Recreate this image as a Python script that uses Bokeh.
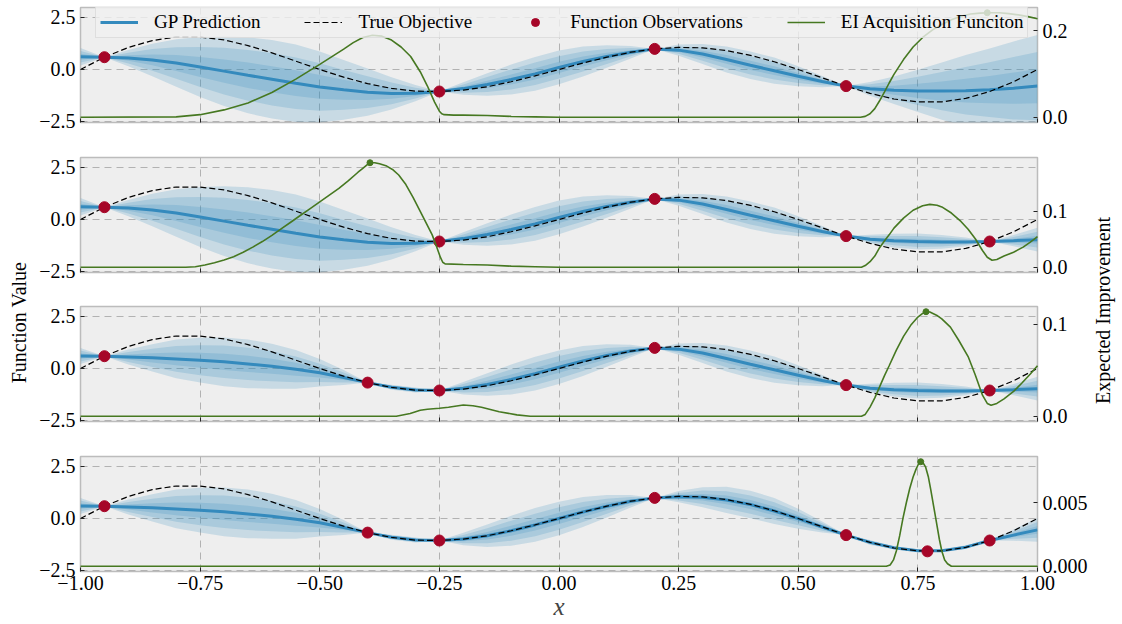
import numpy as np
from math import pi
from bokeh.plotting import figure
from bokeh.models import Range1d, LinearAxis, FixedTicker, Legend, LegendItem, CustomJSTickFormatter
from bokeh.layouts import row, column
from bokeh.embed import file_html
from bokeh.resources import INLINE
from bokeh.core.properties import value

FONT = "Liberation Serif"
BLUE = "#348ABD"
RED = "#A60628"
GREEN = "#467821"

# ---------------- data ----------------
X = [-1.0, -0.95, -0.9, -0.85, -0.8, -0.75, -0.7, -0.65, -0.6, -0.55, -0.5, -0.45, -0.4, -0.35,
     -0.3, -0.25, -0.2, -0.15, -0.1, -0.05, 0.0, 0.05, 0.1, 0.15, 0.2, 0.25, 0.3, 0.35, 0.4,
     0.45, 0.5, 0.55, 0.6, 0.65, 0.7, 0.75, 0.8, 0.85, 0.9, 0.95, 1.0]

TRUE_Y = [0.0, 0.59, 1.06, 1.39, 1.56, 1.56, 1.42, 1.15, 0.80, 0.40, 0.0, -0.37, -0.68, -0.91,
          -1.04, -1.06, -0.99, -0.83, -0.59, -0.31, 0.0, 0.31, 0.59, 0.83, 0.99, 1.06, 1.04,
          0.91, 0.68, 0.37, 0.0, -0.40, -0.80, -1.15, -1.42, -1.56, -1.56, -1.39, -1.06, -0.59, 0.0]

MEAN_1 = [0.61, 0.59, 0.55, 0.46, 0.31, 0.12, -0.08, -0.28, -0.47, -0.66, -0.84, -0.98, -1.09,
          -1.15, -1.14, -1.06, -0.92, -0.72, -0.48, -0.21, 0.10, 0.38, 0.62, 0.83, 0.99, 0.93,
          0.74, 0.48, 0.20, -0.06, -0.33, -0.58, -0.80, -0.93, -1.00, -1.03, -1.04, -1.02,
          -0.97, -0.90, -0.80]
MEAN_2 = [0.61, 0.59, 0.55, 0.46, 0.31, 0.12, -0.08, -0.28, -0.47, -0.66, -0.84, -0.98, -1.09,
          -1.15, -1.14, -1.06, -0.92, -0.72, -0.48, -0.21, 0.10, 0.38, 0.62, 0.83, 0.99, 0.93,
          0.74, 0.48, 0.20, -0.06, -0.33, -0.58, -0.80, -0.95, -1.02, -1.06, -1.08, -1.08,
          -1.06, -1.02, -0.97]
MEAN_3 = [0.60, 0.59, 0.55, 0.51, 0.46, 0.40, 0.32, 0.22, 0.11, -0.04, -0.21, -0.43, -0.68,
          -0.90, -1.03, -1.06, -0.95, -0.77, -0.53, -0.25, 0.06, 0.36, 0.62, 0.84, 0.99, 0.93,
          0.74, 0.48, 0.20, -0.06, -0.33, -0.58, -0.80, -0.95, -1.02, -1.06, -1.08, -1.08,
          -1.06, -1.02, -0.97]
MEAN_4 = [0.60, 0.59, 0.55, 0.51, 0.46, 0.40, 0.32, 0.22, 0.11, -0.04, -0.21, -0.43, -0.68,
          -0.90, -1.03, -1.06, -0.99, -0.83, -0.59, -0.31, 0.0, 0.31, 0.59, 0.83, 0.99, 1.05,
          1.02, 0.89, 0.67, 0.36, -0.01, -0.41, -0.80, -1.15, -1.41, -1.55, -1.55, -1.38,
          -1.06, -0.80, -0.55]

SD_1 = [0.14, 0.0, 0.13, 0.26, 0.38, 0.48, 0.56, 0.61, 0.63, 0.62, 0.57, 0.48, 0.38, 0.26, 0.13,
        0.0, 0.10, 0.18, 0.24, 0.27, 0.27, 0.24, 0.18, 0.10, 0.0, 0.09, 0.16, 0.21, 0.22, 0.21,
        0.16, 0.09, 0.0, 0.11, 0.22, 0.34, 0.46, 0.57, 0.66, 0.75, 0.82]
SD_2 = [0.14, 0.0, 0.13, 0.26, 0.38, 0.48, 0.56, 0.61, 0.63, 0.62, 0.57, 0.48, 0.38, 0.26, 0.13,
        0.0, 0.10, 0.18, 0.24, 0.27, 0.27, 0.24, 0.18, 0.10, 0.0, 0.09, 0.16, 0.21, 0.22, 0.21,
        0.16, 0.09, 0.0, 0.07, 0.11, 0.13, 0.11, 0.07, 0.0, 0.09, 0.19]
SD_3 = [0.13, 0.0, 0.12, 0.22, 0.31, 0.36, 0.39, 0.39, 0.36, 0.31, 0.22, 0.12, 0.0, 0.04, 0.04,
        0.0, 0.10, 0.18, 0.24, 0.27, 0.27, 0.24, 0.18, 0.10, 0.0, 0.09, 0.16, 0.21, 0.22, 0.21,
        0.16, 0.09, 0.0, 0.07, 0.11, 0.13, 0.11, 0.07, 0.0, 0.09, 0.19]
SD_4 = [0.13, 0.0, 0.12, 0.22, 0.31, 0.36, 0.39, 0.39, 0.36, 0.31, 0.22, 0.12, 0.0, 0.04, 0.04,
        0.0, 0.10, 0.18, 0.24, 0.27, 0.27, 0.24, 0.18, 0.10, 0.0, 0.09, 0.16, 0.21, 0.22, 0.21,
        0.16, 0.09, 0.0, 0.04, 0.02, 0.01, 0.01, 0.03, 0.0, 0.09, 0.19]

OBS_X = [-0.95, -0.25, 0.2, 0.6, 0.9, -0.4, 0.77]
OBS_Y = [0.59, -1.06, 0.99, -0.80, -1.06, -0.68, -1.58]
N_OBS = [4, 5, 6, 7]

EI_X_1 = [-1.0, -0.8, -0.75, -0.7, -0.65, -0.6, -0.55, -0.5, -0.45, -0.43, -0.41, -0.39, -0.37,
          -0.35, -0.33, -0.31, -0.29, -0.275, -0.26, -0.25, -0.245, -0.24, -0.22, -0.2, -0.15,
          -0.1, -0.05, 0.0,
          0.6, 0.63, 0.64, 0.65, 0.66, 0.67, 0.68, 0.69, 0.7, 0.72, 0.74, 0.76, 0.78, 0.8, 0.82,
          0.84, 0.86, 0.88, 0.9, 0.92, 0.94, 0.96, 0.98, 1.0]
EI_Y_1 = [0.0, 0.001, 0.006, 0.017, 0.033, 0.057, 0.088, 0.122, 0.157, 0.172, 0.184, 0.189,
          0.187, 0.178, 0.162, 0.140, 0.105, 0.072, 0.035, 0.014, 0.008, 0.006, 0.005, 0.005,
          0.004, 0.002, 0.001, 0.0,
          0.0, 0.0, 0.002, 0.008, 0.020, 0.038, 0.058, 0.079, 0.099, 0.133, 0.162, 0.184, 0.201,
          0.214, 0.225, 0.233, 0.238, 0.240, 0.241, 0.241, 0.239, 0.236, 0.232, 0.227]
EI_X_2 = [-1.0, -0.78, -0.76, -0.74, -0.72, -0.7, -0.68, -0.66, -0.64, -0.62, -0.6, -0.58, -0.56,
          -0.54, -0.52, -0.5, -0.48, -0.46, -0.44, -0.42, -0.41, -0.4, -0.395, -0.385, -0.375,
          -0.36, -0.348, -0.335, -0.32, -0.305, -0.29, -0.278, -0.265, -0.255, -0.248, -0.243,
          -0.238, -0.2, -0.15, -0.1, -0.05, 0.0,
          0.6, 0.632, 0.64, 0.65, 0.66, 0.67, 0.68, 0.69, 0.7, 0.72, 0.74, 0.76, 0.775, 0.79,
          0.8, 0.82, 0.84, 0.855, 0.87, 0.885, 0.895, 0.905, 0.915, 0.93, 0.95, 0.97, 0.985, 1.0]
EI_Y_2 = [0.0, 0.0, 0.001, 0.004, 0.008, 0.013, 0.019, 0.027, 0.036, 0.046, 0.057, 0.069, 0.081,
          0.093, 0.105, 0.117, 0.129, 0.141, 0.155, 0.170, 0.177, 0.184, 0.187, 0.187, 0.185,
          0.181, 0.175, 0.165, 0.148, 0.125, 0.100, 0.080, 0.058, 0.035, 0.018, 0.009,
          0.006, 0.005, 0.004, 0.002, 0.001, 0.0,
          0.0, 0.0, 0.003, 0.010, 0.020, 0.035, 0.047, 0.058, 0.070, 0.088, 0.102, 0.110, 0.1125,
          0.111, 0.108, 0.097, 0.082, 0.068, 0.051, 0.030, 0.018, 0.0125, 0.014, 0.020, 0.027,
          0.036, 0.045, 0.055]
EI_X_3 = [-1.0, -0.34, -0.311, -0.29, -0.275, -0.25, -0.231, -0.2, -0.18, -0.162, -0.125, -0.088,
          -0.06, 0.632, 0.64, 0.65, 0.66, 0.67, 0.68, 0.69, 0.705, 0.72, 0.735, 0.75, 0.76, 0.767,
          0.775, 0.789, 0.8, 0.818, 0.835, 0.855, 0.87, 0.885, 0.895, 0.903, 0.915, 0.93, 0.95,
          0.967, 0.985, 1.0]
EI_Y_3 = [0.0, 0.0, 0.003, 0.0065, 0.0076, 0.0087, 0.0098, 0.0123, 0.0115, 0.0098, 0.005, 0.0015,
          0.0, 0.0, 0.002, 0.010, 0.020, 0.032, 0.044, 0.055, 0.072, 0.087, 0.099, 0.108, 0.112,
          0.1138, 0.1135, 0.110, 0.106, 0.097, 0.083, 0.065, 0.045, 0.023, 0.014, 0.012, 0.014,
          0.019, 0.027, 0.036, 0.046, 0.055]
EI_X_4 = [-1.0, 0.684, 0.692, 0.699, 0.705, 0.712, 0.719, 0.726, 0.733, 0.740, 0.746, 0.751,
          0.756, 0.761, 0.766, 0.772, 0.777, 0.783, 0.789, 0.795, 0.8, 0.806, 0.812, 0.82, 1.0]
EI_Y_4 = [0.0, 0.0, 0.0001, 0.0005, 0.0012, 0.0024, 0.0038, 0.0050, 0.0061, 0.0070, 0.0076,
          0.0080, 0.0082, 0.0081, 0.0078, 0.0070, 0.0060, 0.0047, 0.0034, 0.0021, 0.0012, 0.0005,
          0.0002, 0.0, 0.0]

EI_MAX_X = [0.895, -0.395, 0.767, 0.756]
EI_MAX_Y = [0.241, 0.187, 0.1138, 0.0082]

X_TICKS = [-1.0, -0.75, -0.5, -0.25, 0.0, 0.25, 0.5, 0.75, 1.0]
X_TICK_LABELS = ["\u22121.00", "\u22120.75", "\u22120.50", "\u22120.25", "0.00", "0.25", "0.50",
                 "0.75", "1.00"]
Y_TICKS = [-2.5, 0.0, 2.5]
Y_TICK_LABELS = ["\u22122.5", "0.0", "2.5"]
EI_TICKS = [[0.0, 0.2], [0.0, 0.1], [0.0, 0.1], [0.0, 0.005]]
EI_TICK_LABELS = [["0.0", "0.2"], ["0.0", "0.1"], ["0.0", "0.1"], ["0.000", "0.005"]]

MEANS = [MEAN_1, MEAN_2, MEAN_3, MEAN_4]
SDS = [SD_1, SD_2, SD_3, SD_4]
EI_XS = [EI_X_1, EI_X_2, EI_X_3, EI_X_4]
EI_YS = [EI_Y_1, EI_Y_2, EI_Y_3, EI_Y_4]

LEGEND_LABELS = ["GP Prediction", "True Objective", "Function Observations",
                 "EI Acquisition Funciton"]


def fmt(tvals, tlabels):
    return CustomJSTickFormatter(
        args=dict(tvals=tvals, tlabels=tlabels),
        code="const i = tvals.findIndex(t => Math.abs(t - tick) < 1e-9); return i >= 0 ? tlabels[i] : '';")


def style_axis(ax):
    ax.axis_line_color = None
    ax.major_tick_in = 4
    ax.major_tick_out = 0
    ax.major_tick_line_color = "#222222"
    ax.minor_tick_line_color = None
    ax.major_label_text_font = FONT
    ax.major_label_text_font_size = "20px"
    ax.major_label_text_color = "black"
    ax.major_label_standoff = 5


BORDERS = [(7, 17), (18, 17), (17, 18), (17, 53)]
FRAME_H = 115
MAIN_W = 1056

x_range = Range1d(-1, 1)
figs = []
for i in range(4):
    top, bot = BORDERS[i]
    m = EI_MAX_Y[i]
    p = figure(width=MAIN_W, height=top + FRAME_H + bot, x_range=x_range,
               y_range=Range1d(-2.55, 2.98), output_backend="svg", toolbar_location=None,
               title=None, min_border_left=46, min_border_right=50, min_border_top=top,
               min_border_bottom=bot, background_fill_color="#eeeeee",
               border_fill_color="white", outline_line_color="#bcbcbc", outline_line_width=1.5)
    p.extra_y_ranges = {"ei": Range1d(-0.05 * m, 1.05 * m)}

    p.xaxis.ticker = FixedTicker(ticks=X_TICKS)
    p.xaxis.formatter = fmt(X_TICKS, X_TICK_LABELS)
    p.yaxis.ticker = FixedTicker(ticks=Y_TICKS)
    p.yaxis.formatter = fmt(Y_TICKS, Y_TICK_LABELS)
    style_axis(p.xaxis[0])
    style_axis(p.yaxis[0])
    if i < 3:
        # tick marks only, no tick labels on the upper panels
        p.xaxis.major_label_text_font_size = "1px"
        p.xaxis.major_label_text_color = None
        p.xaxis.major_label_standoff = 0
    else:
        p.xaxis.axis_label = "x"
        p.xaxis.axis_label_text_font = FONT
        p.xaxis.axis_label_text_font_style = "italic"
        p.xaxis.axis_label_text_font_size = "25px"
        p.xaxis.axis_label_standoff = 0
        p.xaxis.major_label_standoff = 4

    rax = LinearAxis(y_range_name="ei", ticker=FixedTicker(ticks=EI_TICKS[i]),
                     formatter=fmt(EI_TICKS[i], EI_TICK_LABELS[i]))
    style_axis(rax)
    p.add_layout(rax, "right")

    p.xgrid.ticker = FixedTicker(ticks=X_TICKS)
    p.ygrid.ticker = FixedTicker(ticks=Y_TICKS)
    p.grid.grid_line_color = "#b2b2b2"
    p.grid.grid_line_dash = "7 5"
    p.grid.grid_line_width = 1

    mean = np.array(MEANS[i])
    sd = np.array(SDS[i])
    for k in (3, 2, 1):
        p.varea(x=X, y1=mean - k * sd, y2=mean + k * sd, fill_color=BLUE, fill_alpha=0.2)
    gp = p.line(X, mean, line_color=BLUE, line_width=3)
    tr = p.line(X, TRUE_Y, line_color="black", line_dash="6 3", line_width=1.2)
    n = N_OBS[i]
    ob = p.scatter(OBS_X[:n], OBS_Y[:n], size=11, fill_color=RED, line_color=RED)
    ei = p.line(EI_XS[i], EI_YS[i], line_color=GREEN, line_width=1.6, y_range_name="ei",
                level="overlay")
    p.scatter([EI_MAX_X[i]], [EI_MAX_Y[i]], size=6, fill_color=GREEN, line_color=GREEN,
              y_range_name="ei", level="overlay")

    if i == 0:
        legend = Legend(items=[LegendItem(label=LEGEND_LABELS[0], renderers=[gp]),
                               LegendItem(label=LEGEND_LABELS[1], renderers=[tr]),
                               LegendItem(label=LEGEND_LABELS[2], renderers=[ob]),
                               LegendItem(label=LEGEND_LABELS[3], renderers=[ei])],
                        orientation="horizontal", location=(15, 84),
                        label_text_font=FONT, label_text_font_size="19px",
                        label_text_color="black", glyph_width=38, glyph_height=20,
                        label_height=20, label_standoff=16, spacing=44, padding=4, margin=0,
                        border_line_color="#cccccc", border_line_width=1,
                        background_fill_color="#f0f0f0", background_fill_alpha=0.8)
        p.add_layout(legend)
    figs.append(p)


def label_fig(text, width, xc, yc):
    f = figure(width=width, height=624, x_range=Range1d(0, 1), y_range=Range1d(0, 624),
               output_backend="svg", toolbar_location=None, title=None, min_border=0,
               outline_line_color=None, background_fill_color="white",
               border_fill_color="white")
    f.axis.visible = False
    f.grid.visible = False
    f.text(x=[xc], y=[624 - yc], text=[text], angle=pi / 2, text_align="center",
           text_baseline="middle", text_font=value(FONT), text_font_size="20px",
           text_color="black")
    return f


left = label_fig("Function Value", 34, 0.53, 322)
right = label_fig("Expected Improvement", 32, 0.38, 310)

layout = row(left, column(*figs), right)
html = file_html(layout, INLINE)
html = html.replace("<head>", "<head><style>html,body{margin:0;padding:0;}</style>", 1)
open("out.html", "w").write(html)
